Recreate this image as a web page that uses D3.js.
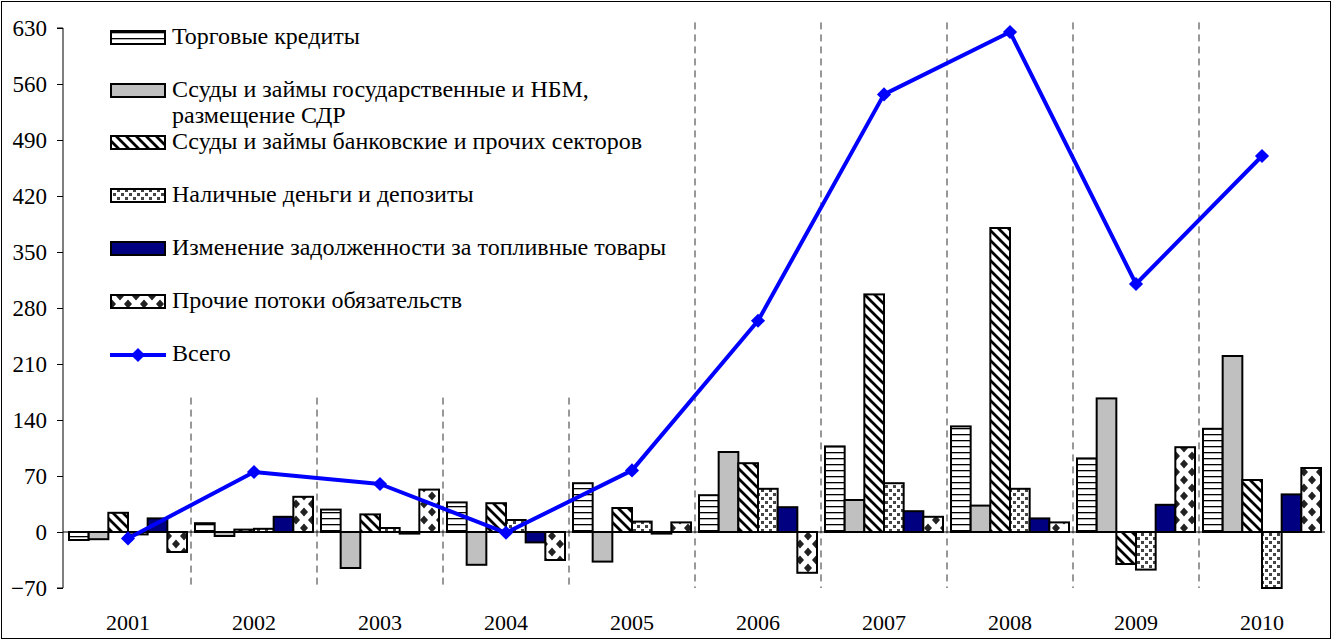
<!DOCTYPE html>
<html><head><meta charset="utf-8">
<script src="https://cdn.jsdelivr.net/npm/d3@7"></script>
<style>
html,body{margin:0;padding:0;background:#fff;}
svg text{font-family:"Liberation Serif","Times New Roman",serif;fill:#000;}
</style></head>
<body><svg id="c" width="1332" height="640"></svg>
<script>
const years = ['2001','2002','2003','2004','2005','2006','2007','2008','2009','2010'];
const seriesNames = [
  'Торговые кредиты',
  'Ссуды и займы государственные и НБМ,|размещение СДР',
  'Ссуды и займы банковские и прочих секторов',
  'Наличные деньги и депозиты',
  'Изменение задолженности за топливные товары',
  'Прочие потоки обязательств'
];
const totalName = 'Всего';
const tradeCredits = [-10, 11, 28, 37, 61, 46, 107, 132, 92, 129];
const govLoans     = [-9, -5, -45, -41, -37, 100, 40, 33, 167, 220];
const bankLoans    = [24, 3, 22, 36, 30, 86, 297, 380, -40, 65];
const cashDeposits = [-3, 4, 5, 15, 13, 54, 61, 54, -47, -70];
const fuelDebt     = [17, 19, -2, -13, -2, 31, 26, 17, 34, 47];
const otherFlows   = [-25, 44, 53, -35, 12, -51, 19, 12, 106, 80];
const total        = [-8, 75, 60, -1, 77, 264, 547, 625, 310, 470];
const yTicks = [-70, 0, 70, 140, 210, 280, 350, 420, 490, 560, 630];

const seriesValues = [tradeCredits, govLoans, bankLoans, cashDeposits, fuelDebt, otherFlows];
const fills = ['url(#pH)', '#C0C0C0', 'url(#pD)', 'url(#pDot)', '#000080', 'url(#pDia)'];

const svg = d3.select('#c');
const defs = svg.append('defs');
// horizontal lines
let p = defs.append('pattern').attr('id','pH').attr('patternUnits','userSpaceOnUse').attr('width',8).attr('height',6);
p.append('rect').attr('width',8).attr('height',6).attr('fill','#fff');
p.append('rect').attr('y',2).attr('width',8).attr('height',1.3).attr('fill','#000');
// diagonal
p = defs.append('pattern').attr('id','pD').attr('patternUnits','userSpaceOnUse').attr('width',10).attr('height',10);
p.append('rect').attr('width',10).attr('height',10).attr('fill','#fff');
p.append('path').attr('d','M-2,-2L12,12M-2,8L2,12M8,-2L12,2').attr('stroke','#000').attr('stroke-width',2.8);
// dots
p = defs.append('pattern').attr('id','pDot').attr('patternUnits','userSpaceOnUse').attr('width',8).attr('height',8);
p.append('rect').attr('width',8).attr('height',8).attr('fill','#fff');
p.append('rect').attr('x',1).attr('y',1).attr('width',3).attr('height',3).attr('fill','#444');
p.append('rect').attr('x',5).attr('y',5).attr('width',3).attr('height',3).attr('fill','#444');
// diamonds
p = defs.append('pattern').attr('id','pDia').attr('patternUnits','userSpaceOnUse').attr('width',16).attr('height',16);
p.append('rect').attr('width',16).attr('height',16).attr('fill','#fff');
p.append('path').attr('d','M8,3.5L12,8L8,12.5L4,8Z M0,-4.5L4,0L0,4.5L-4,0Z M16,-4.5L20,0L16,4.5L12,0Z M0,11.5L4,16L0,20.5L-4,16Z M16,11.5L20,16L16,20.5L12,16Z').attr('fill','#222');

// frame
svg.append('rect').attr('x',1.5).attr('y',1.5).attr('width',1329).attr('height',637).attr('fill','none').attr('stroke','#000').attr('stroke-width',1);

const x = d3.scaleBand().domain(years).range([65, 1325]).padding(0);
const xs = d3.scaleBand().domain(d3.range(6)).range([4, x.bandwidth()-4]).padding(0);
const y = d3.scaleLinear().domain([-70, 630]).range([588, 28]);

// separators
years.slice(1).forEach((yr, i) => {
  const xx = x(yr);
  const top = i < 4 ? y(168) : y(637);
  svg.append('line').attr('x1',xx).attr('x2',xx).attr('y1',top).attr('y2',y(-70))
    .attr('stroke','#333').attr('stroke-width',1).attr('stroke-dasharray','7,5');
});

// bars
seriesValues.forEach((vals, si) => {
  svg.append('g').selectAll('rect').data(vals).join('rect')
    .attr('x', (d,i) => x(years[i]) + xs(si))
    .attr('width', xs.bandwidth())
    .attr('y', d => y(Math.max(0,d)))
    .attr('height', d => Math.abs(y(d)-y(0)))
    .attr('fill', fills[si]).attr('stroke','#000').attr('stroke-width',2);
});

// zero line
svg.append('line').attr('x1',63).attr('x2',1325).attr('y1',y(0)).attr('y2',y(0)).attr('stroke','#000').attr('stroke-width',1);

// y axis
const ya = svg.append('g').attr('transform','translate(63,0)')
  .call(d3.axisLeft(y).tickValues(yTicks).tickSize(6).tickPadding(10).tickFormat(d3.format('d')));
ya.selectAll('path,line').attr('stroke','#000');
ya.select('.domain').attr('d', `M-6,${y(630)}H0V${y(-70)}H-6`);
ya.selectAll('text').attr('font-size',23).attr('font-family','Liberation Serif');

// x labels
svg.append('g').selectAll('text').data(years).join('text')
  .attr('x', d => x(d) + x.bandwidth()/2).attr('y', 625)
  .attr('text-anchor','middle').attr('dominant-baseline','middle').attr('font-size',22).text(d=>d);

// total line
const cx = (d,i) => x(years[i]) + x.bandwidth()/2;
svg.append('path').datum(total)
  .attr('d', d3.line().x(cx).y(d=>y(d)))
  .attr('fill','none').attr('stroke','#0000FF').attr('stroke-width',4).attr('stroke-linejoin','round');
svg.append('g').selectAll('path').data(total).join('path')
  .attr('d', d3.symbol().type(d3.symbolSquare).size(100))
  .attr('transform',(d,i)=>`translate(${cx(d,i)},${y(d)}) rotate(45)`)
  .attr('fill','#0000FF');

// legend
const legRows = [38, 91, 143, 196, 249, 302];
const lg = svg.append('g');
seriesNames.forEach((name, i) => {
  const yy = legRows[i];
  lg.append('rect').attr('x',111).attr('y',yy-7).attr('width',54).attr('height',13)
    .attr('fill',fills[i]).attr('stroke','#000').attr('stroke-width',2);
  const lines = name.split('|');
  lines.forEach((ln, k) => {
    lg.append('text').attr('x',172).attr('y',yy + k*26).attr('dominant-baseline','middle')
      .attr('font-size',24).text(ln);
  });
});
lg.append('line').attr('x1',110).attr('x2',166).attr('y1',355).attr('y2',355).attr('stroke','#0000FF').attr('stroke-width',4);
lg.append('path').attr('d', d3.symbol().type(d3.symbolSquare).size(100)).attr('transform','translate(138,355) rotate(45)').attr('fill','#0000FF');
lg.append('text').attr('x',172).attr('y',355).attr('dominant-baseline','middle').attr('font-size',24).text(totalName);
</script></body></html>
